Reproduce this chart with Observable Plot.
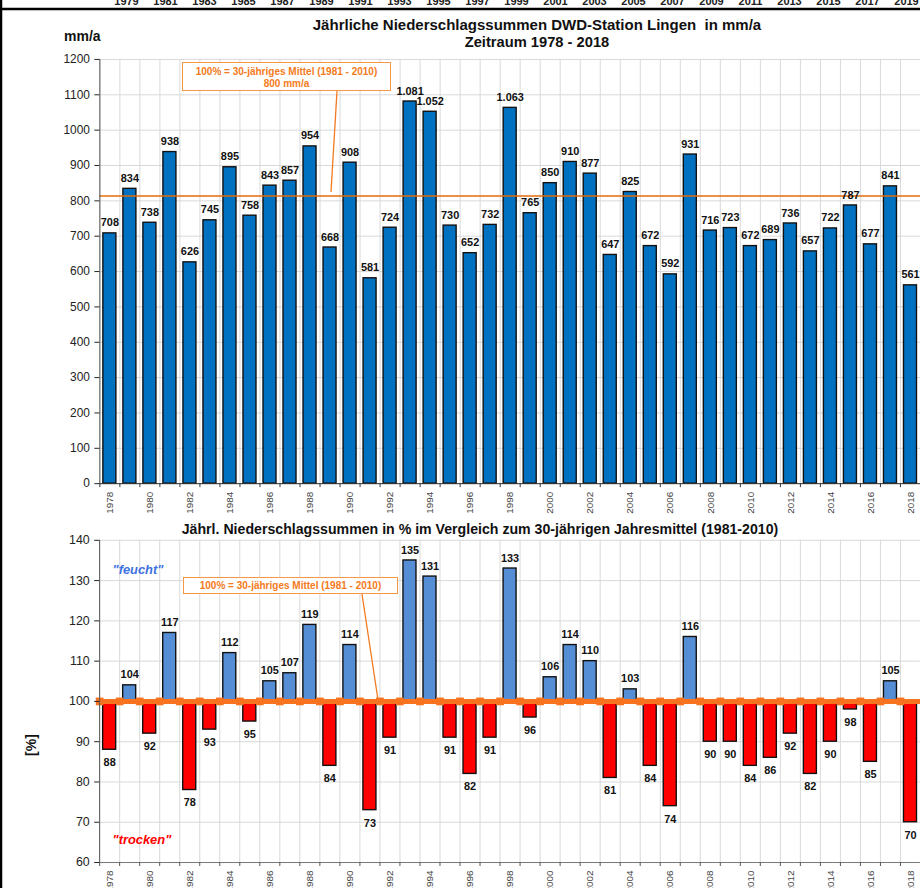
<!DOCTYPE html>
<html><head><meta charset="utf-8">
<script src="https://cdn.jsdelivr.net/npm/d3@7"></script>
<script src="https://cdn.jsdelivr.net/npm/@observablehq/plot@0.6"></script>
<style>
html,body{margin:0;padding:0;overflow:hidden;background:#fff;}
#wrap{position:relative;width:920px;height:888px;overflow:hidden;background:#fff;font-family:"Liberation Sans",Arial,sans-serif;}
#wrap > *{position:absolute;}
.ttl{font-weight:bold;color:#111;text-align:center;white-space:nowrap;}
.box{border:1.5px solid #f79646;background:#fff;color:#f47a20;font-weight:bold;font-size:10px;text-align:center;line-height:11.5px;white-space:nowrap;box-sizing:border-box;}
g[aria-label="value labels"] text{letter-spacing:-0.4px;}
</style></head><body><div id="wrap"></div>
<script>
(function () {
// ---------- data ----------
const years = [1978,1979,1980,1981,1982,1983,1984,1985,1986,1987,1988,1989,1990,1991,1992,1993,1994,1995,1996,1997,1998,1999,2000,2001,2002,2003,2004,2005,2006,2007,2008,2009,2010,2011,2012,2013,2014,2015,2016,2017,2018];
const annual = [708,834,738,938,626,745,895,758,843,857,954,668,908,581,724,1081,1052,730,652,732,1063,765,850,910,877,647,825,672,592,931,716,723,672,689,736,657,722,787,677,841,561];
const percent = [88,104,92,117,78,93,112,95,105,107,119,84,114,73,91,135,131,91,82,91,133,96,106,114,110,81,103,84,74,116,90,90,84,86,92,82,90,98,85,105,70];
const meanLine = 814;          // drawn reference line, top panel (mm/a)
const baseline = 100;          // 100 % line, bottom panel
const topTicks = [0,100,200,300,400,500,600,700,800,900,1000,1100,1200];
const bottomTicks = [60,70,80,90,100,110,120,130,140];
const yearLabels = [1978,1980,1982,1984,1986,1988,1990,1992,1994,1996,1998,2000,2002,2004,2006,2008,2010,2012,2014,2016,2018];
const strayYears = [1979,1981,1983,1985,1987,1989,1991,1993,1995,1997,1999,2001,2003,2005,2007,2009,2011,2013,2015,2017,2019];

// ---------- helpers ----------
const wrap = document.getElementById("wrap");
function put(el, left, topPx) { el.style.left = left + "px"; el.style.top = topPx + "px"; wrap.appendChild(el); return el; }
function div(cls, html, css) { const d = document.createElement("div"); d.className = cls; d.innerHTML = html; Object.assign(d.style, css || {}); return d; }
const de = d3.formatLocale({decimal: ",", thousands: ".", grouping: [3], currency: ["", "€"]});
const fmt = de.format(",d");
const plain = d => String(d);

const ML = 100;
const FONT = "Liberation Sans, Arial, sans-serif";
const xScale = () => ({type: "band", domain: years, paddingInner: 0.35, paddingOuter: 0.175, round: false, axis: null});
const gridC = "#d9d9d9";
const topData = years.map((y, i) => ({year: y, v: annual[i]}));
const botData = years.map((y, i) => ({year: y, v: percent[i]}));
const LBL = {fontSize: 11, fontWeight: "bold", fill: "#111", ariaLabel: "value labels"};

// ---------- stray labels of the chart above (cut off) ----------
const stray = Plot.plot({
  width: 920, height: 12, margin: 0,
  style: {fontFamily: FONT, background: "transparent", overflow: "visible"},
  x: {type: "point", domain: strayYears, range: [117, 915], padding: 0, axis: null},
  y: {axis: null},
  marks: [Plot.text(strayYears, {x: d => d, frameAnchor: "top", dy: -3.5, fontSize: 11, fontWeight: "bold", fill: "#222", text: plain})]
});
put(stray, 0, 0);

// ---------- top panel ----------
const WT = 926, stepT = (WT - ML) / years.length;
const chartTop = Plot.plot({
  width: WT, height: 480, marginLeft: ML, marginRight: 0, marginTop: 9, marginBottom: 44,
  style: {fontFamily: FONT, background: "transparent"},
  x: xScale(),
  y: {domain: [0, 1200], axis: null},
  marks: [
    Plot.ruleY(topTicks, {stroke: gridC}),
    Plot.ruleX(years, {x: d => d, dx: -stepT / 2, stroke: gridC}),
    Plot.barY(topData, {x: "year", y: "v", fill: "#0070c0", stroke: "#111", strokeWidth: 1.4}),
    Plot.ruleY([meanLine], {stroke: "#e46c0a", strokeWidth: 1.5}),
    Plot.text(topData, {x: "year", y: "v", text: d => fmt(d.v), dy: -10.5, ...LBL}),
    Plot.ruleY([0], {stroke: "#333", strokeWidth: 1}),
    Plot.ruleX([years[0]], {x: d => d, dx: -stepT / 2, stroke: "#555"}),
    Plot.ruleX(years, {x: d => d, y1: 0, y2: 0, insetBottom: -4, dx: -stepT / 2, stroke: "#333"}),
    Plot.axisY({ticks: topTicks, tickFormat: plain, tickSize: 5, tickPadding: 5, fontSize: 12, color: "#222", label: null}),
    Plot.axisX({ticks: yearLabels, tickFormat: plain, tickRotate: -90, tickSize: 0, tickPadding: 8, fontSize: 10, color: "#444", label: null})
  ]
});
put(chartTop, 0, 50);

// ---------- bottom panel ----------
const WB = 928, stepB = (WB - ML) / years.length;
const chartBottom = Plot.plot({
  width: WB, height: 375, marginLeft: ML, marginRight: 0, marginTop: 20, marginBottom: 30,
  style: {fontFamily: FONT, background: "transparent"},
  x: xScale(),
  y: {domain: [60, 140], axis: null},
  marks: [
    Plot.ruleY(bottomTicks, {stroke: gridC}),
    Plot.ruleX(years, {x: d => d, dx: -stepB / 2, stroke: gridC}),
    Plot.barY(botData, {x: "year", y1: baseline, y2: "v", fill: d => d.v >= baseline ? "#558ed5" : "#ff0000", stroke: "#111", strokeWidth: 1.4}),
    Plot.ruleY([baseline], {stroke: "#f87320", strokeWidth: 5}),
    Plot.dot(years, {x: d => d, y: () => baseline, dx: -stepB / 2, symbol: "square", r: 4.4, fill: "#f87320", stroke: "none"}),
    Plot.text(botData.filter(d => d.v >= baseline), {x: "year", y: "v", text: d => fmt(d.v), dy: -10.5, ...LBL}),
    Plot.text(botData.filter(d => d.v < baseline), {x: "year", y: "v", text: d => fmt(d.v), dy: 13, ...LBL}),
    Plot.text(['"feucht"'], {frameAnchor: "top-left", dx: 13, dy: 25, textAnchor: "start", fontSize: 13, fontWeight: "bold", fontStyle: "italic", fill: "#4071e0"}),
    Plot.text(['"trocken"'], {frameAnchor: "bottom-left", dx: 13, dy: -19, textAnchor: "start", fontSize: 13, fontWeight: "bold", fontStyle: "italic", fill: "#ff0000"}),
    Plot.ruleY([60], {stroke: "#777", strokeWidth: 1}),
    Plot.ruleX([years[0]], {x: d => d, dx: -stepB / 2, stroke: "#555"}),
    Plot.ruleX(years, {x: d => d, y1: 60, y2: 60, insetBottom: -4, dx: -stepB / 2, stroke: "#555"}),
    Plot.axisY({ticks: bottomTicks, tickFormat: plain, tickSize: 5, tickPadding: 5, fontSize: 12.5, color: "#222", label: null}),
    Plot.axisX({ticks: yearLabels, tickFormat: plain, tickRotate: -90, tickSize: 0, tickPadding: 8, fontSize: 10, color: "#444", label: null})
  ]
});
put(chartBottom, 0, 520);

// ---------- titles & annotations ----------
put(div("ttl", "Jährliche Niederschlagssummen DWD-Station Lingen&nbsp; in mm/a", {fontSize: "15px", width: "600px"}), 237, 16);
put(div("ttl", "Zeitraum 1978 - 2018", {fontSize: "14.7px", width: "600px"}), 237, 34);
put(div("ttl", "mm/a", {fontSize: "14px", textAlign: "left"}), 64, 28);
put(div("ttl", "Jährl. Niederschlagssummen in % im Vergleich zum 30-jährigen Jahresmittel (1981-2010)", {fontSize: "14.15px", width: "800px"}), 80, 521);
put(div("ttl", "[%]", {fontSize: "14px", transform: "rotate(-90deg)", transformOrigin: "center"}), 20, 737);

put(div("box", "100% = 30-jähriges Mittel (1981 - 2010)<br>800 mm/a", {width: "209px", height: "29px", paddingTop: "3px"}), 182, 62);
put(div("box", "100% = 30-jähriges Mittel (1981 - 2010)", {width: "215px", height: "17px", paddingTop: "2px"}), 183, 577);

// leader lines and frame
const ns = "http://www.w3.org/2000/svg";
const ov = document.createElementNS(ns, "svg");
ov.setAttribute("width", 920); ov.setAttribute("height", 888);
ov.style.left = "0px"; ov.style.top = "0px"; ov.style.pointerEvents = "none";
ov.innerHTML = `
  <line x1="337" y1="91" x2="331" y2="192" stroke="#f47a20" stroke-width="1.3"/>
  <line x1="362" y1="594" x2="378" y2="700" stroke="#f47a20" stroke-width="1.3"/>
  <line x1="0" y1="9" x2="920" y2="9" stroke="#000" stroke-width="2.5"/>
  <line x1="1" y1="0" x2="1" y2="888" stroke="#000" stroke-width="2.5"/>`;
wrap.appendChild(ov);
})();
</script></body></html>
